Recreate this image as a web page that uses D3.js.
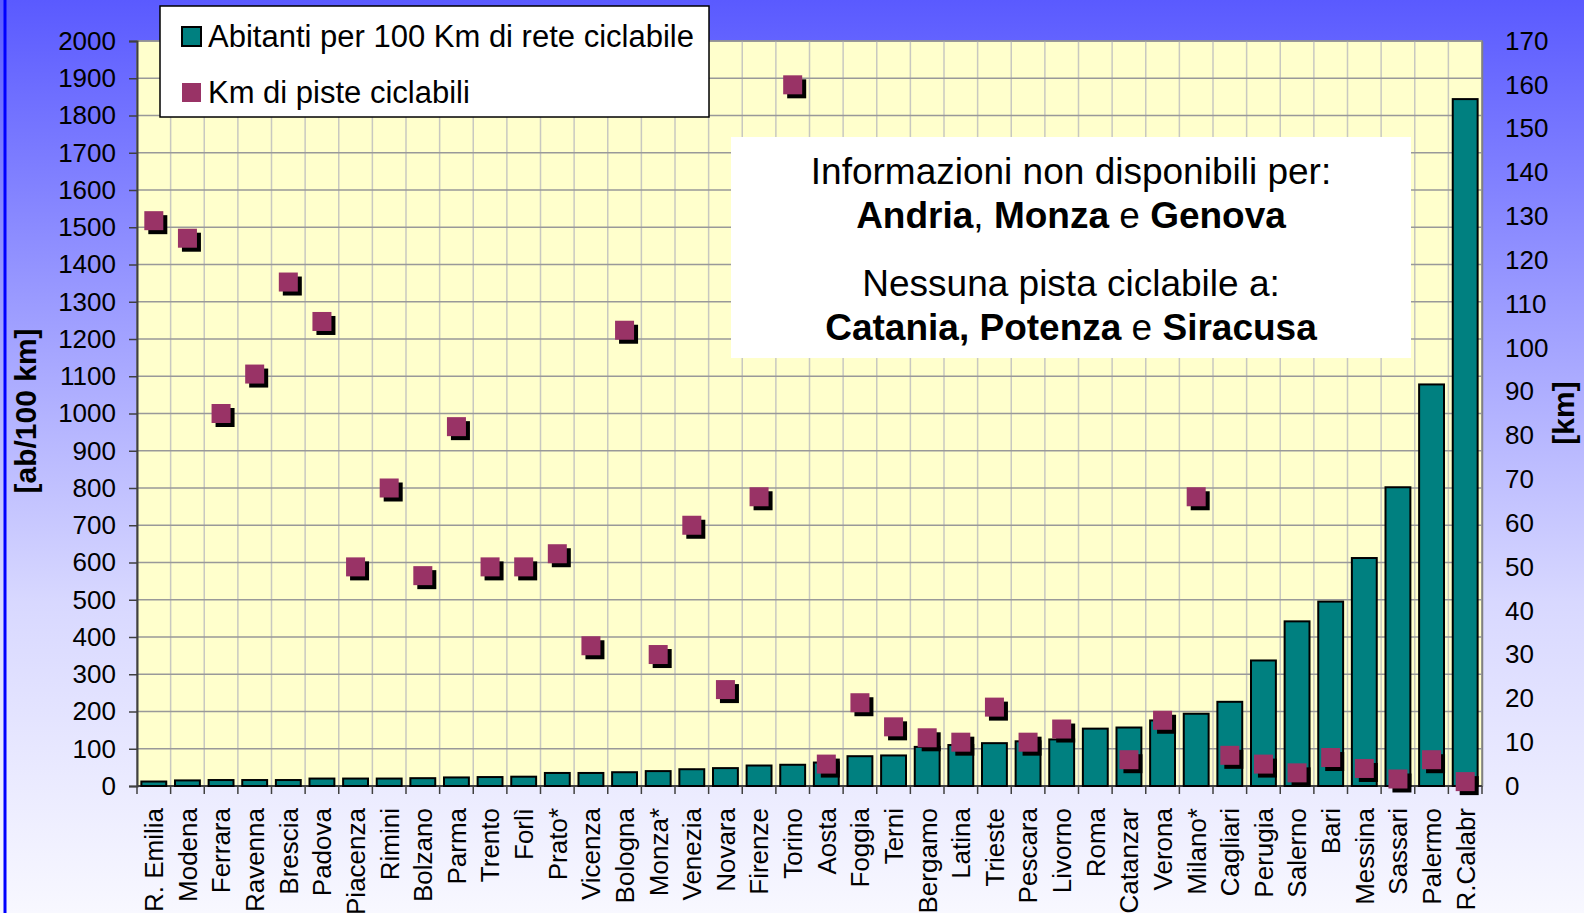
<!DOCTYPE html>
<html>
<head>
<meta charset="utf-8">
<script src="https://cdnjs.cloudflare.com/ajax/libs/d3/7.8.5/d3.min.js"></script>
<style>
  body { margin: 0; background: #fff; }
  svg { display: block; font-family: "Liberation Sans", Arial, sans-serif; }
</style>
</head>
<body>
<div class="chart"></div>
<script>
// Cities, in chart order
const cities = ['R. Emilia', 'Modena', 'Ferrara', 'Ravenna', 'Brescia', 'Padova', 'Piacenza', 'Rimini',
  'Bolzano', 'Parma', 'Trento', 'Forlì', 'Prato*', 'Vicenza', 'Bologna', 'Monza*', 'Venezia', 'Novara',
  'Firenze', 'Torino', 'Aosta', 'Foggia', 'Terni', 'Bergamo', 'Latina', 'Trieste', 'Pescara', 'Livorno',
  'Roma', 'Catanzar', 'Verona', 'Milano*', 'Cagliari', 'Perugia', 'Salerno', 'Bari', 'Messina', 'Sassari',
  'Palermo', 'R.Calabr']

// Abitanti per 100 km di rete ciclabile (left axis)
const abitanti = [12, 15, 16, 16, 16, 20, 20, 20,
  21, 23, 24, 25, 35, 35, 37, 40, 45, 48,
  55, 57, 63, 80, 82, 105, 110, 115, 120, 125,
  154, 157, 176, 194, 226, 337, 442, 495, 612, 802,
  1078, 1844]

// Km di piste ciclabili (right axis), null = no marker
const kmPiste = [129, 125, 85, 94, 115, 106, 50, 68,
  48, 82, 50, 50, 53, 32, 104, 30, 59.5, 22,
  66, 160, 5, 19, 13.5, 11, 10, 18, 10, 13,
  null, 6, 15, 66, 7, 5, 3, 6.5, 4, 1.6,
  6, 1]

const leftTicks = d3.range(0, 2001, 100)
const rightTicks = d3.range(0, 171, 10)

const legendText = ['Abitanti per 100 Km di rete ciclabile', 'Km di piste ciclabili']
const noteLines = [
  [['Informazioni non disponibili per:', 400]],
  [['Andria', 700], [', ', 400], ['Monza', 700], [' e ', 400], ['Genova', 700]],
  [['Nessuna pista ciclabile a:', 400]],
  [['Catania, Potenza', 700], [' e ', 400], ['Siracusa', 700]],
]

const width = 1584
const height = 913
const plot = { left: 137, right: 1482, top: 41, bottom: 786 }

const teal = '#008080'
const plum = '#993366'

const svg = d3.select('.chart')
  .append('svg')
  .attr('width', width)
  .attr('height', height)

// background gradient
const grad = svg.append('defs').append('linearGradient')
  .attr('id', 'bg')
  .attr('x1', 0).attr('y1', 0).attr('x2', 0).attr('y2', 1)
grad.selectAll('stop')
  .data([[0, '#5a5aff'], [0.22, '#8585ff'], [0.44, '#b0b0ff'], [0.66, '#d8d8ff'], [1, '#f8f8ff']])
  .join('stop')
  .attr('offset', d => d[0])
  .attr('stop-color', d => d[1])

svg.append('rect')
  .attr('width', width).attr('height', height)
  .attr('fill', 'url(#bg)')

svg.append('line')
  .attr('x1', 5).attr('x2', 5).attr('y1', 0).attr('y2', height)
  .attr('stroke', '#0000ff').attr('stroke-width', 3)

// scales
const x = d3.scaleBand()
  .domain(cities)
  .range([plot.left, plot.right])
  .paddingInner(0.26)
  .paddingOuter(0.13)

const yLeft = d3.scaleLinear().domain([0, 2000]).range([plot.bottom, plot.top])
const yRight = d3.scaleLinear().domain([0, 170]).range([plot.bottom, plot.top])

// plot area
svg.append('rect')
  .attr('x', plot.left).attr('y', plot.top)
  .attr('width', plot.right - plot.left).attr('height', plot.bottom - plot.top)
  .attr('fill', '#ffffcc')
  .attr('stroke', '#808080')
  .attr('stroke-width', 1.5)

// vertical gridlines (category boundaries)
const bounds = d3.range(1, cities.length).map(i => plot.left + i * x.step())
svg.append('g')
  .selectAll('line')
  .data(bounds)
  .join('line')
  .attr('x1', d => d).attr('x2', d => d)
  .attr('y1', plot.top).attr('y2', plot.bottom)
  .attr('stroke', '#c8c8c0')
  .attr('stroke-width', 1.5)

// horizontal gridlines
svg.append('g')
  .selectAll('line')
  .data(leftTicks.slice(1))
  .join('line')
  .attr('x1', plot.left).attr('x2', plot.right)
  .attr('y1', d => yLeft(d)).attr('y2', d => yLeft(d))
  .attr('stroke', '#999999')
  .attr('stroke-width', 1.5)

// left axis
const axisL = svg.append('g')
  .attr('transform', `translate(${plot.left},0)`)
  .call(d3.axisLeft(yLeft).tickValues(leftTicks).tickFormat(d3.format('d')).tickSize(8).tickPadding(13))
axisL.select('.domain').attr('stroke', '#404040').attr('stroke-width', 2)
axisL.selectAll('.tick line').attr('stroke', '#404040').attr('stroke-width', 1.5)
axisL.selectAll('text').attr('font-size', 26).attr('font-family', '"Liberation Sans", Arial, sans-serif').attr('fill', '#000')

// right axis
const axisR = svg.append('g')
  .attr('transform', `translate(${plot.right},0)`)
  .call(d3.axisRight(yRight).tickValues(rightTicks).tickFormat(d3.format('d')).tickSize(0).tickPadding(23))
axisR.select('.domain').attr('stroke', '#808080').attr('stroke-width', 1.5)
axisR.selectAll('text').attr('font-size', 26).attr('font-family', '"Liberation Sans", Arial, sans-serif').attr('fill', '#000')

// bottom axis line + boundary ticks
svg.append('line')
  .attr('x1', plot.left).attr('x2', plot.right)
  .attr('y1', plot.bottom).attr('y2', plot.bottom)
  .attr('stroke', '#404040').attr('stroke-width', 2)
svg.append('g')
  .selectAll('line')
  .data(d3.range(0, cities.length + 1).map(i => plot.left + i * x.step()))
  .join('line')
  .attr('x1', d => d).attr('x2', d => d)
  .attr('y1', plot.bottom).attr('y2', plot.bottom + 8)
  .attr('stroke', '#404040').attr('stroke-width', 1.5)

svg.append('g')
  .selectAll('text')
  .data(cities)
  .join('text')
  .attr('transform', d => `translate(${x(d) + x.bandwidth() / 2},${plot.bottom + 22}) rotate(-90)`)
  .attr('text-anchor', 'end')
  .attr('dy', '0.36em')
  .attr('font-size', 26)
  .text(d => d)

// bars
svg.append('g')
  .selectAll('rect')
  .data(abitanti)
  .join('rect')
  .attr('x', (d, i) => x(cities[i]))
  .attr('y', d => yLeft(d))
  .attr('width', x.bandwidth())
  .attr('height', d => yLeft(0) - yLeft(d))
  .attr('fill', teal)
  .attr('stroke', '#000')
  .attr('stroke-width', 2)

// markers with shadow
const ms = 19
const pts = kmPiste.map((v, i) => ({ v, c: cities[i] })).filter(d => d.v !== null)
const marks = svg.append('g')
marks.selectAll('rect.shadow')
  .data(pts)
  .join('rect')
  .attr('class', 'shadow')
  .attr('x', d => x(d.c) + x.bandwidth() / 2 - ms / 2 + 4)
  .attr('y', d => yRight(d.v) - ms / 2 + 4)
  .attr('width', ms).attr('height', ms)
  .attr('fill', '#000')
marks.selectAll('rect.mk')
  .data(pts)
  .join('rect')
  .attr('class', 'mk')
  .attr('x', d => x(d.c) + x.bandwidth() / 2 - ms / 2)
  .attr('y', d => yRight(d.v) - ms / 2)
  .attr('width', ms).attr('height', ms)
  .attr('fill', plum)

// axis titles
svg.append('text')
  .attr('transform', 'translate(25,411) rotate(-90)')
  .attr('text-anchor', 'middle')
  .attr('dy', '0.36em')
  .attr('font-size', 30)
  .attr('font-weight', 700)
  .text('[ab/100 km]')

svg.append('text')
  .attr('transform', 'translate(1563,413) rotate(-90)')
  .attr('text-anchor', 'middle')
  .attr('dy', '0.36em')
  .attr('font-size', 30)
  .attr('font-weight', 700)
  .text('[km]')

// legend
const legend = svg.append('g')
legend.append('rect')
  .attr('x', 160).attr('y', 6).attr('width', 549).attr('height', 111)
  .attr('fill', '#fff').attr('stroke', '#000').attr('stroke-width', 1.5)
legend.selectAll('rect.sw')
  .data(d3.zip(legendText, [teal, plum]))
  .join('rect')
  .attr('class', 'sw')
  .attr('x', 182).attr('y', (d, i) => 27 + i * 56)
  .attr('width', 19).attr('height', 19)
  .attr('fill', d => d[1])
  .attr('stroke', (d, i) => i === 0 ? '#000' : 'none')
  .attr('stroke-width', 2)
legend.selectAll('text')
  .data(legendText)
  .join('text')
  .attr('x', 208).attr('y', (d, i) => 36 + i * 56)
  .attr('dy', '0.36em')
  .attr('font-size', 31)
  .text(d => d)

// note box
svg.append('rect')
  .attr('x', 731).attr('y', 137).attr('width', 680).attr('height', 221)
  .attr('fill', '#fff')
svg.append('g')
  .selectAll('text')
  .data(noteLines)
  .join('text')
  .attr('x', 1071)
  .attr('y', (d, i) => [171, 215, 283, 327][i])
  .attr('dy', '0.36em')
  .attr('text-anchor', 'middle')
  .attr('font-size', 37)
  .selectAll('tspan')
  .data(d => d)
  .join('tspan')
  .attr('font-weight', d => d[1])
  .attr('xml:space', 'preserve')
  .text(d => d[0])
</script>
</body>
</html>
